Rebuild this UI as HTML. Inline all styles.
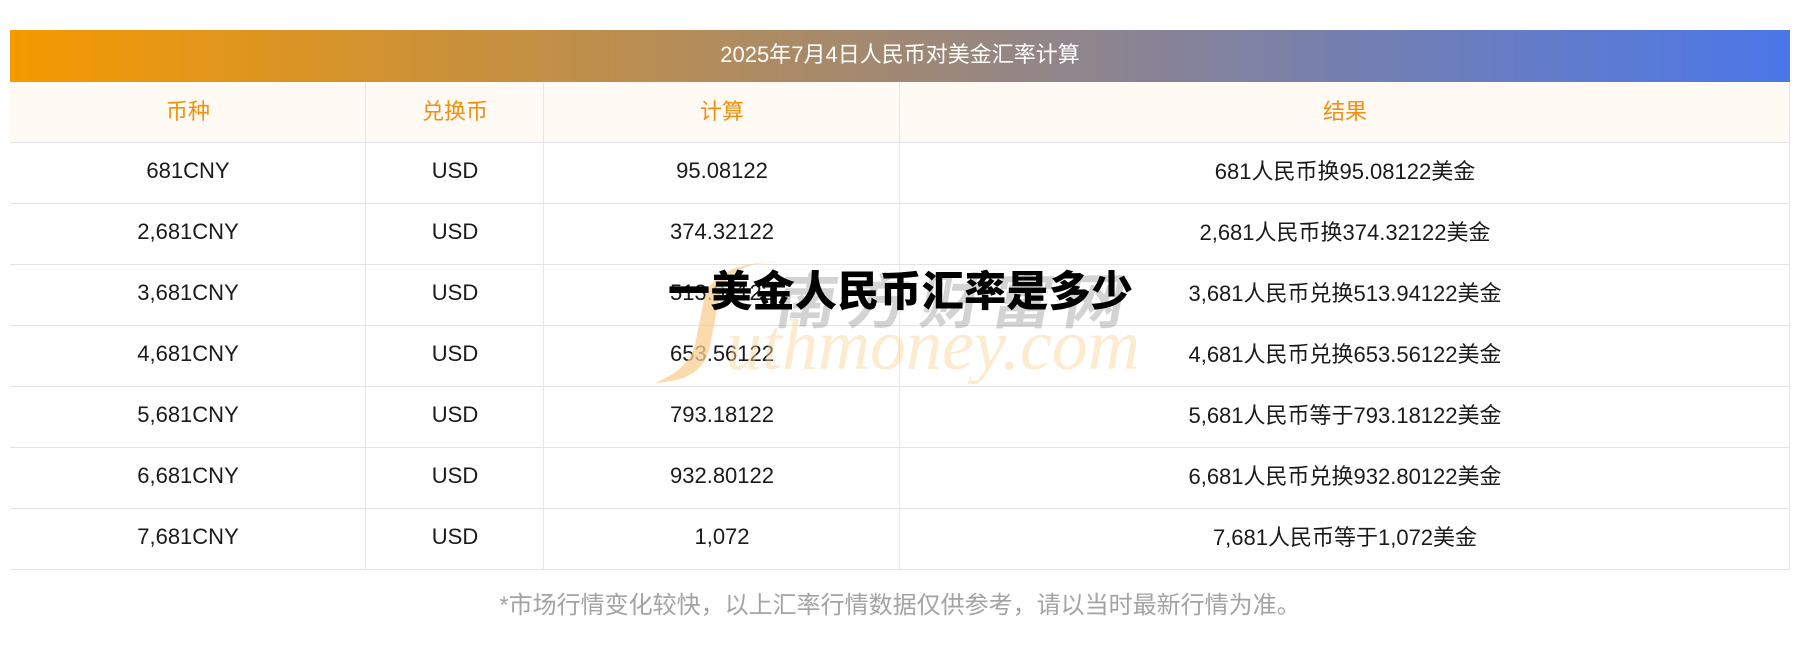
<!DOCTYPE html>
<html>
<head>
<meta charset="utf-8">
<style>
  html,body{margin:0;padding:0;}
  body{width:1800px;height:650px;position:relative;background:#fff;overflow:hidden;
       font-family:"Liberation Sans","Noto Sans CJK SC",sans-serif;}
  .bar{position:absolute;left:10px;top:30px;width:1780px;height:52px;box-sizing:border-box;padding-bottom:7px;
       background:linear-gradient(to right,#f59a00 0%,#4b77e9 100%);
       color:#fff;font-size:22px;display:flex;align-items:center;justify-content:center;}
  .hrow{position:absolute;left:10px;top:82px;width:1780px;height:60px;background:#fffaf3;}
  .cell{position:absolute;display:flex;align-items:center;justify-content:center;box-sizing:border-box;
        font-size:22px;color:#1a1a1a;white-space:nowrap;padding-bottom:5px;}
  .r{padding-bottom:7px;}
  .hcell{color:#f0900f;padding-bottom:4px;}
  .hl{position:absolute;left:10px;width:1780px;height:1px;background:#e3e3e6;}
  .vl{position:absolute;top:82px;height:488px;width:1px;background:#e6e6ec;}
  .foot{position:absolute;left:10px;width:1780px;top:590px;height:32px;text-align:center;
        font-size:24px;color:#a3a3a3;line-height:32px;}
  .title{position:absolute;left:668px;top:262px;font-size:42px;font-weight:900;color:#000;
         font-family:"Noto Sans CJK SC","WenQuanYi Zen Hei",sans-serif;white-space:nowrap;line-height:54px;
         letter-spacing:0.3px;}
  .wm1{position:absolute;left:778px;top:260px;font-size:60px;font-weight:bold;color:rgba(150,150,150,0.42);
       font-family:"Noto Sans CJK SC",sans-serif;letter-spacing:12px;white-space:nowrap;line-height:76px;
       transform:skewX(-10deg);}
  .wm2{position:absolute;left:726px;top:300px;font-size:72px;font-style:italic;
       font-family:"Liberation Serif",serif;color:rgba(250,210,150,0.45);white-space:nowrap;line-height:90px;}
</style>
</head>
<body>
<div class="bar">2025年7月4日人民币对美金汇率计算</div>
<div class="hrow"></div>

<!-- header cells -->
<div class="cell hcell" style="left:10px;width:356px;top:82px;height:60px;">币种</div>
<div class="cell hcell" style="left:366px;width:178px;top:82px;height:60px;">兑换币</div>
<div class="cell hcell" style="left:544px;width:356px;top:82px;height:60px;">计算</div>
<div class="cell hcell" style="left:900px;width:890px;top:82px;height:60px;">结果</div>

<!-- horizontal lines -->
<div class="hl" style="top:142px;"></div>
<div class="hl" style="top:203px;"></div>
<div class="hl" style="top:264px;"></div>
<div class="hl" style="top:325px;"></div>
<div class="hl" style="top:386px;"></div>
<div class="hl" style="top:447px;"></div>
<div class="hl" style="top:508px;"></div>
<div class="hl" style="top:569px;"></div>

<!-- vertical lines -->
<div class="vl" style="left:365px;"></div>
<div class="vl" style="left:543px;"></div>
<div class="vl" style="left:899px;"></div>
<div class="vl" style="left:1789px;"></div>

<!-- rows -->
<div class="cell" style="left:10px;width:356px;top:143px;height:60px;">681CNY</div>
<div class="cell" style="left:366px;width:178px;top:143px;height:60px;">USD</div>
<div class="cell" style="left:544px;width:356px;top:143px;height:60px;">95.08122</div>
<div class="cell r" style="left:900px;width:890px;top:143px;height:60px;">681人民币换95.08122美金</div>

<div class="cell" style="left:10px;width:356px;top:204px;height:60px;">2,681CNY</div>
<div class="cell" style="left:366px;width:178px;top:204px;height:60px;">USD</div>
<div class="cell" style="left:544px;width:356px;top:204px;height:60px;">374.32122</div>
<div class="cell r" style="left:900px;width:890px;top:204px;height:60px;">2,681人民币换374.32122美金</div>

<div class="cell" style="left:10px;width:356px;top:265px;height:60px;">3,681CNY</div>
<div class="cell" style="left:366px;width:178px;top:265px;height:60px;">USD</div>
<div class="cell" style="left:544px;width:356px;top:265px;height:60px;">513.94122</div>
<div class="cell r" style="left:900px;width:890px;top:265px;height:60px;">3,681人民币兑换513.94122美金</div>

<div class="cell" style="left:10px;width:356px;top:326px;height:60px;">4,681CNY</div>
<div class="cell" style="left:366px;width:178px;top:326px;height:60px;">USD</div>
<div class="cell" style="left:544px;width:356px;top:326px;height:60px;">653.56122</div>
<div class="cell r" style="left:900px;width:890px;top:326px;height:60px;">4,681人民币兑换653.56122美金</div>

<div class="cell" style="left:10px;width:356px;top:387px;height:60px;">5,681CNY</div>
<div class="cell" style="left:366px;width:178px;top:387px;height:60px;">USD</div>
<div class="cell" style="left:544px;width:356px;top:387px;height:60px;">793.18122</div>
<div class="cell r" style="left:900px;width:890px;top:387px;height:60px;">5,681人民币等于793.18122美金</div>

<div class="cell" style="left:10px;width:356px;top:448px;height:60px;">6,681CNY</div>
<div class="cell" style="left:366px;width:178px;top:448px;height:60px;">USD</div>
<div class="cell" style="left:544px;width:356px;top:448px;height:60px;">932.80122</div>
<div class="cell r" style="left:900px;width:890px;top:448px;height:60px;">6,681人民币兑换932.80122美金</div>

<div class="cell" style="left:10px;width:356px;top:509px;height:60px;">7,681CNY</div>
<div class="cell" style="left:366px;width:178px;top:509px;height:60px;">USD</div>
<div class="cell" style="left:544px;width:356px;top:509px;height:60px;">1,072</div>
<div class="cell r" style="left:900px;width:890px;top:509px;height:60px;">7,681人民币等于1,072美金</div>

<div class="foot">*市场行情变化较快，以上汇率行情数据仅供参考，请以当时最新行情为准。</div>

<!-- watermark -->
<svg style="position:absolute;left:0;top:0;" width="1800" height="650">
  <path d="M 792 262 C 742 260, 724 274, 719 300 L 709 350 C 703 372, 686 381, 655 383 C 681 372, 691 360, 695 344 L 704 300 C 710 274, 736 260, 792 262 Z"
        fill="#f9cf92" fill-opacity="0.75"/>
</svg>
<div class="wm1">南方财富网</div>
<div class="wm2">uthmoney.com</div>

<div class="title">一美金人民币汇率是多少</div>
</body>
</html>
